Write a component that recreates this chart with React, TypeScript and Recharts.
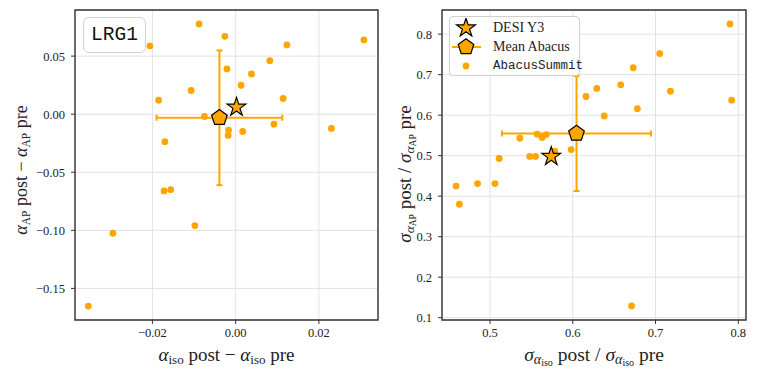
import React from "react";
import {
  ScatterChart,
  Scatter,
  XAxis,
  YAxis,
  CartesianGrid,
  ErrorBar,
  ReferenceArea,
  Legend,
} from "recharts";

// LRG1 mocks: shift of alpha after reconstruction (left panel)
const isoShift = [
  -0.0206, -0.0088, -0.0026, 0.0308, 0.0123, 0.0082, -0.0021, 0.0038, 0.0013, -0.0107, -0.0185, 0.0114,
  -0.0075, 0.0092, 0.023, -0.0017, -0.0018, 0.0017, -0.017, -0.0172, -0.0156, -0.0098, -0.0295, -0.0354,
];
const apShift = [
  0.0588, 0.0777, 0.067, 0.0639, 0.0596, 0.0461, 0.039, 0.0347, 0.0249, 0.0204, 0.012, 0.0135,
  -0.002, -0.0086, -0.0123, -0.0137, -0.0183, -0.0149, -0.0237, -0.0661, -0.065, -0.0959, -0.1025, -0.1652,
];

// ratio of errors post / pre (right panel)
const isoRatio = [
  0.79, 0.705, 0.673, 0.658, 0.629, 0.616, 0.718, 0.792, 0.678, 0.638, 0.536, 0.557,
  0.563, 0.568, 0.598, 0.548, 0.555, 0.511, 0.459, 0.485, 0.506, 0.463, 0.671, 0.578,
];
const apRatio = [
  0.825, 0.752, 0.717, 0.675, 0.666, 0.646, 0.659, 0.637, 0.616, 0.598, 0.543, 0.553,
  0.545, 0.552, 0.515, 0.498, 0.498, 0.493, 0.425, 0.431, 0.431, 0.38, 0.129, 0.511,
];

// DESI Y3 and mean of mocks [x, y, errX, errY]
const desiShift = [0.0002, 0.006];
const meanShift = [-0.0039, -0.0031, 0.0151, 0.058];
const desiRatio = [0.574, 0.498];
const meanRatio = [0.6045, 0.5547, 0.09, 0.142];

const shiftXTicks = [-0.02, 0, 0.02];
const shiftYTicks = [-0.15, -0.1, -0.05, 0, 0.05];
const ratioXTicks = [0.5, 0.6, 0.7, 0.8];
const ratioYTicks = [0.1, 0.2, 0.3, 0.4, 0.5, 0.6, 0.7, 0.8];

const shiftXDomain: [number, number] = [-0.0386, 0.0342];
const shiftYDomain: [number, number] = [-0.1772, 0.0897];
const ratioXDomain: [number, number] = [0.442, 0.8093];
const ratioYDomain: [number, number] = [0.0943, 0.8596];

const ORANGE = "#FFA500";
const INK = "#222";
const SERIF = "'Liberation Serif', 'DejaVu Serif', serif";
const MONO = "'Liberation Mono', 'DejaVu Sans Mono', monospace";

const tickStyle = { fontSize: 12.5, fill: INK, fontFamily: SERIF };
const fmt = (d: number) => (v: number) => v.toFixed(d).replace("-", "\u2212");

function starPoints(cx: number, cy: number, R: number) {
  const pts: string[] = [];
  for (let i = 0; i < 10; i++) {
    const a = ((-90 + i * 36) * Math.PI) / 180;
    const r = i % 2 ? R * 0.382 : R;
    pts.push(`${cx + r * Math.cos(a)},${cy + r * Math.sin(a)}`);
  }
  return pts.join(" ");
}

function pentaPoints(cx: number, cy: number, R: number) {
  const pts: string[] = [];
  for (let i = 0; i < 5; i++) {
    const a = ((-90 + i * 72) * Math.PI) / 180;
    pts.push(`${cx + R * Math.cos(a)},${cy + R * Math.sin(a)}`);
  }
  return pts.join(" ");
}

const Dot = (p: any) => <circle cx={p.cx} cy={p.cy} r={3.4} fill={ORANGE} />;
const Star = (p: any) => (
  <polygon points={starPoints(p.cx, p.cy, 9.8)} fill={ORANGE} stroke="#000" strokeWidth={1.2} />
);
const Penta = (p: any) => (
  <polygon points={pentaPoints(p.cx, p.cy, 8.2)} fill={ORANGE} stroke="#000" strokeWidth={1.2} />
);

function LegendBox() {
  const row = { position: "absolute" as const, left: 0, height: 19, display: "flex", alignItems: "center" };
  return (
    <div
      style={{
        position: "relative",
        width: 131,
        height: 60,
        boxSizing: "border-box",
        border: "1px solid #d0d0d0",
        borderRadius: 4,
        background: "rgba(255,255,255,0.85)",
        fontFamily: SERIF,
        fontSize: 14,
        color: INK,
      }}
    >
      <div style={{ ...row, top: 1 }}>
        <svg width={36} height={19}>
          <polygon points={starPoints(16, 10, 9.8)} fill={ORANGE} stroke="#000" strokeWidth={1.2} />
        </svg>
        <span style={{ marginLeft: 7 }}>DESI Y3</span>
      </div>
      <div style={{ ...row, top: 20 }}>
        <svg width={36} height={19}>
          <line x1={2} x2={31} y1={10} y2={10} stroke={ORANGE} strokeWidth={2} />
          <polygon points={pentaPoints(16, 10, 8.2)} fill={ORANGE} stroke="#000" strokeWidth={1.2} />
        </svg>
        <span style={{ marginLeft: 7 }}>Mean Abacus</span>
      </div>
      <div style={{ ...row, top: 39 }}>
        <svg width={36} height={19}>
          <circle cx={16} cy={10} r={3.4} fill={ORANGE} />
        </svg>
        <span style={{ marginLeft: 7, fontFamily: MONO, fontSize: 12.5 }}>AbacusSummit</span>
      </div>
    </div>
  );
}

function ShiftXTitle({ viewBox }: any) {
  const cx = viewBox.x + viewBox.width / 2;
  return (
    <text x={cx} y={viewBox.y + 41} textAnchor="middle" fontFamily={SERIF} fontSize={19} fill={INK}>
      <tspan fontStyle="italic">α</tspan>
      <tspan fontSize={13} dy={3}>iso</tspan>
      <tspan dy={-3}> post − </tspan>
      <tspan fontStyle="italic">α</tspan>
      <tspan fontSize={13} dy={3}>iso</tspan>
      <tspan dy={-3}> pre</tspan>
    </text>
  );
}

function ShiftYTitle({ viewBox }: any) {
  const cy = viewBox.y + viewBox.height / 2 + 5;
  const x = 27;
  return (
    <text x={x} y={cy} transform={`rotate(-90, ${x}, ${cy})`} textAnchor="middle" fontFamily={SERIF} fontSize={18} fill={INK}>
      <tspan fontStyle="italic">α</tspan>
      <tspan fontSize={11.5} dy={3}>AP</tspan>
      <tspan dy={-3}> post − </tspan>
      <tspan fontStyle="italic">α</tspan>
      <tspan fontSize={11.5} dy={3}>AP</tspan>
      <tspan dy={-3}> pre</tspan>
    </text>
  );
}

function RatioXTitle({ viewBox }: any) {
  const cx = viewBox.x + viewBox.width / 2;
  return (
    <text x={cx} y={viewBox.y + 41} textAnchor="middle" fontFamily={SERIF} fontSize={19.5} fill={INK}>
      <tspan fontStyle="italic">σ</tspan>
      <tspan fontSize={14} fontStyle="italic" dy={3}>α</tspan>
      <tspan fontSize={10} dy={2}>iso</tspan>
      <tspan dy={-5}>  post / </tspan>
      <tspan fontStyle="italic">σ</tspan>
      <tspan fontSize={14} fontStyle="italic" dy={3}>α</tspan>
      <tspan fontSize={10} dy={2}>iso</tspan>
      <tspan dy={-5}>  pre</tspan>
    </text>
  );
}

function RatioYTitle({ viewBox }: any) {
  const cy = viewBox.y + viewBox.height / 2 + 9;
  const x = 31;
  return (
    <text x={x} y={cy} transform={`rotate(-90, ${x}, ${cy})`} textAnchor="middle" fontFamily={SERIF} fontSize={19} fill={INK}>
      <tspan fontStyle="italic">σ</tspan>
      <tspan fontSize={13.5} fontStyle="italic" dy={3}>α</tspan>
      <tspan fontSize={9.5} dy={2}>AP</tspan>
      <tspan dy={-5}> post / </tspan>
      <tspan fontStyle="italic">σ</tspan>
      <tspan fontSize={13.5} fontStyle="italic" dy={3}>α</tspan>
      <tspan fontSize={9.5} dy={2}>AP</tspan>
      <tspan dy={-5}> pre</tspan>
    </text>
  );
}

export default function App() {
  const shiftData = isoShift.map((x, i) => ({ x, y: apShift[i] }));
  const ratioData = isoRatio.map((x, i) => ({ x, y: apRatio[i] }));
  const shiftMean = [{ x: meanShift[0], y: meanShift[1], ex: meanShift[2], ey: meanShift[3] }];
  const ratioMean = [{ x: meanRatio[0], y: meanRatio[1], ex: meanRatio[2], ey: meanRatio[3] }];

  return (
    <div style={{ position: "absolute", left: 0, top: 0, width: 757, height: 375, background: "#fff" }}>
      <div style={{ position: "absolute", left: 0, top: 0 }}>
        <ScatterChart width={380} height={375} margin={{ top: 10, right: 2, left: 0, bottom: 0 }}>
          <CartesianGrid stroke="#e2e2e2" />
          <XAxis
            type="number"
            dataKey="x"
            domain={shiftXDomain}
            ticks={shiftXTicks}
            tickFormatter={fmt(2)}
            allowDataOverflow
            height={55}
            axisLine={false}
            tickLine={{ stroke: "#333" }}
            tickSize={4}
            tickMargin={4}
            tick={tickStyle}
            label={{ content: ShiftXTitle }}
          />
          <YAxis
            type="number"
            dataKey="y"
            domain={shiftYDomain}
            ticks={shiftYTicks}
            tickFormatter={fmt(2)}
            allowDataOverflow
            width={75}
            axisLine={false}
            tickLine={{ stroke: "#333" }}
            tickSize={4}
            tickMargin={6}
            tick={tickStyle}
            label={{ content: ShiftYTitle }}
          />
          <ReferenceArea
            x1={shiftXDomain[0]}
            x2={shiftXDomain[1]}
            y1={shiftYDomain[0]}
            y2={shiftYDomain[1]}
            fill="none"
            stroke="#333"
            strokeWidth={1.4}
            ifOverflow="visible"
          />
          <Scatter data={shiftData} shape={Dot} isAnimationActive={false} />
          <Scatter data={shiftMean} shape={Penta} isAnimationActive={false}>
            <ErrorBar dataKey="ex" direction="x" width={3} stroke={ORANGE} strokeWidth={2} isAnimationActive={false} />
            <ErrorBar dataKey="ey" direction="y" width={3} stroke={ORANGE} strokeWidth={2} isAnimationActive={false} />
          </Scatter>
          <Scatter data={[{ x: desiShift[0], y: desiShift[1] }]} shape={Star} isAnimationActive={false} />
        </ScatterChart>
        <div
          style={{
            position: "absolute",
            left: 83,
            top: 17,
            width: 63,
            height: 36,
            boxSizing: "border-box",
            border: "1px solid #d0d0d0",
            borderRadius: 6,
            background: "rgba(255,255,255,0.85)",
            fontFamily: MONO,
            fontSize: 19.5,
            color: "#111",
            display: "flex",
            alignItems: "center",
            justifyContent: "center",
          }}
        >
          LRG1
        </div>
      </div>

      <div style={{ position: "absolute", left: 380, top: 0 }}>
        <ScatterChart width={377} height={375} margin={{ top: 10, right: 11, left: 0, bottom: 0 }}>
          <CartesianGrid stroke="#e2e2e2" />
          <XAxis
            type="number"
            dataKey="x"
            domain={ratioXDomain}
            ticks={ratioXTicks}
            tickFormatter={fmt(1)}
            allowDataOverflow
            height={55}
            axisLine={false}
            tickLine={{ stroke: "#333" }}
            tickSize={4}
            tickMargin={4}
            tick={tickStyle}
            label={{ content: RatioXTitle }}
          />
          <YAxis
            type="number"
            dataKey="y"
            domain={ratioYDomain}
            ticks={ratioYTicks}
            tickFormatter={fmt(1)}
            allowDataOverflow
            width={62}
            axisLine={false}
            tickLine={{ stroke: "#333" }}
            tickSize={4}
            tickMargin={6}
            tick={tickStyle}
            label={{ content: RatioYTitle }}
          />
          <ReferenceArea
            x1={ratioXDomain[0]}
            x2={ratioXDomain[1]}
            y1={ratioYDomain[0]}
            y2={ratioYDomain[1]}
            fill="none"
            stroke="#333"
            strokeWidth={1.4}
            ifOverflow="visible"
          />
          <Scatter data={ratioData} shape={Dot} isAnimationActive={false} />
          <Scatter data={ratioMean} shape={Penta} isAnimationActive={false}>
            <ErrorBar dataKey="ex" direction="x" width={3} stroke={ORANGE} strokeWidth={2} isAnimationActive={false} />
            <ErrorBar dataKey="ey" direction="y" width={3} stroke={ORANGE} strokeWidth={2} isAnimationActive={false} />
          </Scatter>
          <Scatter data={[{ x: desiRatio[0], y: desiRatio[1] }]} shape={Star} isAnimationActive={false} />
          <Legend
            layout="horizontal"
            verticalAlign="middle"
            align="center"
            content={<LegendBox />}
            wrapperStyle={{ left: 69, top: 16, width: 131 }}
          />
        </ScatterChart>
      </div>
    </div>
  );
}
